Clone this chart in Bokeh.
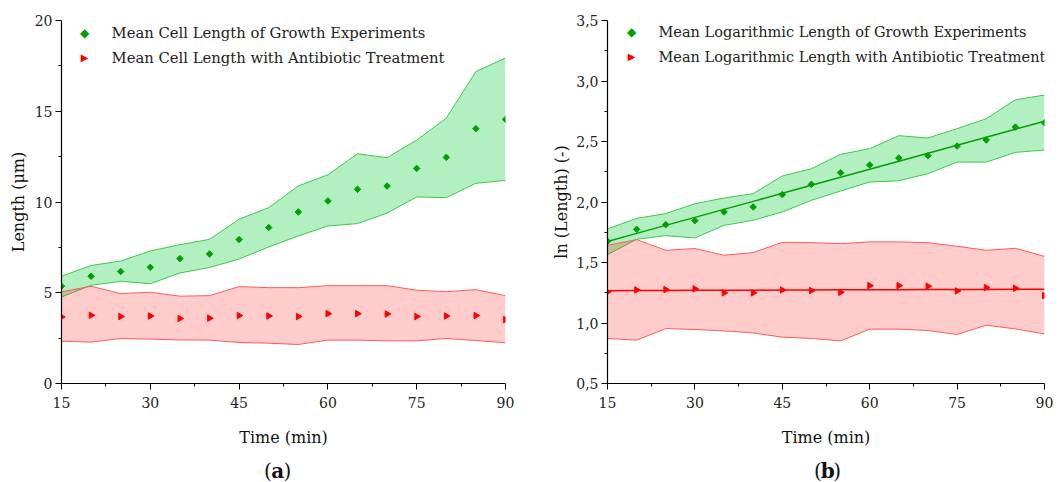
import numpy as np
from bokeh.plotting import figure
from bokeh.layouts import row, column
from bokeh.models import FixedTicker, Label, Range1d, CustomJSTickFormatter
from bokeh.embed import file_html
from bokeh.resources import INLINE

# ---------------- data ----------------
time = [15, 20, 25, 30, 35, 40, 45, 50, 55, 60, 65, 70, 75, 80, 85, 90]

# (a) cell length (um)
grow_mean = [5.36, 5.91, 6.17, 6.40, 6.88, 7.14, 7.93, 8.59, 9.45, 10.06,
             10.70, 10.88, 11.85, 12.46, 14.04, 14.55]
grow_upper = [5.91, 6.50, 6.75, 7.30, 7.65, 7.94, 9.05, 9.69, 10.88, 11.50,
              12.66, 12.44, 13.41, 14.62, 17.19, 17.93]
grow_lower = [4.77, 5.41, 5.63, 5.50, 6.09, 6.39, 6.86, 7.52, 8.13, 8.68,
              8.81, 9.39, 10.28, 10.24, 11.03, 11.19]
abx_mean = [3.67, 3.76, 3.69, 3.72, 3.58, 3.60, 3.74, 3.72, 3.69, 3.85,
            3.85, 3.83, 3.69, 3.72, 3.74, 3.52]
abx_upper = [5.05, 5.36, 4.95, 5.03, 4.81, 4.84, 5.34, 5.28, 5.28, 5.39,
             5.39, 5.39, 5.14, 5.06, 5.17, 4.84]
abx_lower = [2.33, 2.28, 2.48, 2.44, 2.40, 2.39, 2.26, 2.22, 2.15, 2.39,
             2.39, 2.35, 2.35, 2.48, 2.37, 2.24]

# (b) logarithmic length
lgrow_mean = [1.675, 1.774, 1.813, 1.846, 1.918, 1.959, 2.061, 2.146, 2.242,
              2.306, 2.363, 2.383, 2.462, 2.512, 2.619, 2.655]
lgrow_upper = [1.777, 1.865, 1.904, 1.986, 2.033, 2.069, 2.215, 2.275, 2.394,
               2.441, 2.548, 2.529, 2.606, 2.688, 2.845, 2.884]
lgrow_lower = [1.565, 1.692, 1.722, 1.703, 1.807, 1.849, 1.918, 2.014, 2.091,
               2.165, 2.176, 2.234, 2.330, 2.330, 2.410, 2.430]
labx_mean = [1.257, 1.273, 1.276, 1.282, 1.249, 1.249, 1.273, 1.268, 1.254,
             1.309, 1.309, 1.304, 1.265, 1.293, 1.287, 1.227]
labx_upper = [1.642, 1.689, 1.601, 1.615, 1.560, 1.582, 1.667, 1.664, 1.656,
              1.670, 1.670, 1.664, 1.634, 1.601, 1.617, 1.551]
labx_lower = [0.872, 0.858, 0.954, 0.946, 0.935, 0.918, 0.883, 0.872, 0.852,
              0.949, 0.949, 0.938, 0.905, 0.982, 0.951, 0.910]

x_ticks = [15, 30, 45, 60, 75, 90]
x_minor = [22.5, 37.5, 52.5, 67.5, 82.5]
ya_ticks = [0, 5, 10, 15, 20]
ya_minor = [2.5, 7.5, 12.5, 17.5]
yb_ticks = [0.5, 1.0, 1.5, 2.0, 2.5, 3.0, 3.5]
yb_minor = [0.75, 1.25, 1.75, 2.25, 2.75, 3.25]

legend_a = ["Mean Cell Length of Growth Experiments",
            "Mean Cell Length with Antibiotic Treatment"]
legend_b = ["Mean Logarithmic Length of Growth Experiments",
            "Mean Logarithmic Length with Antibiotic Treatment"]

FONT = "DejaVu Serif"
GREEN_FILL = "#00cc33"
GREEN_LINE = "#3cc84a"
GREEN_MARK = "#00a000"
RED_FILL = "#ff0000"
RED_LINE = "#ff5a5a"
RED_MARK = "#ff0000"

H_MAIN = 452
H_CAP = 30
FRAME_TOP = 20
FRAME_H = 363


def style(p, xlabel, ylabel, yticks, yminor, y_label_standoff):
    p.xaxis.ticker = FixedTicker(ticks=x_ticks, minor_ticks=x_minor)
    p.yaxis.ticker = FixedTicker(ticks=yticks, minor_ticks=yminor)
    p.xgrid.visible = False
    p.ygrid.visible = False
    p.outline_line_color = None
    for ax in (p.xaxis[0], p.yaxis[0]):
        ax.axis_line_color = "black"
        ax.axis_line_width = 1.2
        ax.major_tick_line_color = "black"
        ax.minor_tick_line_color = "black"
        ax.major_tick_out = 6
        ax.major_tick_in = 0
        ax.minor_tick_out = 3
        ax.minor_tick_in = 0
        ax.major_label_text_font = FONT
        ax.major_label_text_font_size = "14px"
        ax.major_label_text_color = "#222222"
        ax.axis_label_text_font = FONT
        ax.axis_label_text_font_size = "16px"
        ax.axis_label_text_font_style = "normal"
        ax.axis_label_text_color = "#111111"
    p.xaxis.axis_label = xlabel
    p.yaxis.axis_label = ylabel
    p.xaxis.major_label_standoff = 7
    p.xaxis.axis_label_standoff = 17
    p.yaxis.major_label_standoff = 3
    p.yaxis.axis_label_standoff = y_label_standoff


def bands(p, lower_g, upper_g, lower_r, upper_r):
    p.varea(x=time, y1=lower_g, y2=upper_g, fill_color=GREEN_FILL, fill_alpha=0.3)
    p.line(time, upper_g, line_color=GREEN_LINE, line_width=1)
    p.line(time, lower_g, line_color=GREEN_LINE, line_width=1)
    p.varea(x=time, y1=lower_r, y2=upper_r, fill_color=RED_FILL, fill_alpha=0.2)
    p.line(time, upper_r, line_color=RED_LINE, line_width=1)
    p.line(time, lower_r, line_color=RED_LINE, line_width=1)


def make_conv(frame_w, ymin, ymax):
    # pixel offsets (from frame left / frame top) -> data coordinates
    def cx(px):
        return 15 + px * (90 - 15) / frame_w

    def cy(py):
        return ymax - py * (ymax - ymin) / FRAME_H
    return cx, cy


def legend(p, conv, labels, mx, tx, rows, fs_text):
    cx, cy = conv
    syms = [("\u25c6", GREEN_MARK, "12px"), ("\u25b6", RED_MARK, "10px")]
    for (sym, col, fs), lab, ry in zip(syms, labels, rows):
        p.add_layout(Label(x=cx(mx), y=cy(ry), text=sym, text_align="center",
                           text_baseline="middle", text_font="DejaVu Sans",
                           text_font_size=fs, text_color=col))
        p.add_layout(Label(x=cx(tx), y=cy(ry), text=lab, text_align="left",
                           text_baseline="middle", text_font=FONT,
                           text_font_size=fs_text, text_color="#222222"))


def caption_fig(width, cx, letter):
    c = figure(width=width, height=H_CAP, output_backend="svg", title=None,
               toolbar_location=None, x_range=Range1d(0, width),
               y_range=Range1d(0, H_CAP), x_axis_type=None, y_axis_type=None,
               min_border=0)
    c.outline_line_color = None
    c.xgrid.visible = False
    c.ygrid.visible = False
    common = dict(y=H_CAP / 2 - 3, text_font=FONT, text_font_size="20px",
                  text_color="#111111", text_baseline="middle")
    c.add_layout(Label(x=cx - 7, text="(", text_align="right", **common))
    c.add_layout(Label(x=cx, text=letter, text_align="center",
                       text_font_style="bold", **common))
    c.add_layout(Label(x=cx + 7, text=")", text_align="left", **common))
    return c


# ---------------- panel (a) ----------------
WA, LA, RA = 530, 61, 25
pa = figure(width=WA, height=H_MAIN, output_backend="svg", toolbar_location=None,
            x_range=Range1d(15, 90), y_range=Range1d(0, 20),
            min_border_left=LA, min_border_right=RA, min_border_top=FRAME_TOP,
            min_border_bottom=H_MAIN - FRAME_TOP - FRAME_H)
style(pa, "Time (min)", "Length (\u03bcm)", ya_ticks, ya_minor, 4)
bands(pa, grow_lower, grow_upper, abx_lower, abx_upper)
pa.scatter(time, grow_mean, marker="square", size=4.6, angle=np.pi / 4,
           color=GREEN_MARK)
pa.scatter(time, abx_mean, marker="triangle", size=6.5, angle=-np.pi / 2,
           color=RED_MARK)
conv_a = make_conv(WA - LA - RA, 0, 20)
legend(pa, conv_a, legend_a, 23, 50, [12, 37], "14.8px")
ca = caption_fig(WA, 258, "a")

# ---------------- panel (b) ----------------
WB, LB, RB = 534, 77, 20
pb = figure(width=WB, height=H_MAIN, output_backend="svg", toolbar_location=None,
            x_range=Range1d(15, 90), y_range=Range1d(0.5, 3.5),
            min_border_left=LB, min_border_right=RB, min_border_top=FRAME_TOP,
            min_border_bottom=H_MAIN - FRAME_TOP - FRAME_H)
style(pb, "Time (min)", "ln (Length) (-)", yb_ticks, yb_minor, 2)
pb.yaxis.formatter = CustomJSTickFormatter(
    code="return tick.toFixed(1).replace('.', ',');")
bands(pb, lgrow_lower, lgrow_upper, labx_lower, labx_upper)

t = np.array(time, dtype=float)
kg = np.polyfit(t, lgrow_mean, 1)
kr = np.polyfit(t, labx_mean, 1)
pb.line(t, np.polyval(kg, t), line_color=GREEN_MARK, line_width=1.5)
pb.line(t, np.polyval(kr, t), line_color=RED_MARK, line_width=1.5)

pb.scatter(time, lgrow_mean, marker="square", size=4.6, angle=np.pi / 4,
           color=GREEN_MARK)
pb.scatter(time, labx_mean, marker="triangle", size=6.5, angle=-np.pi / 2,
           color=RED_MARK)
conv_b = make_conv(WB - LB - RB, 0.5, 3.5)
legend(pb, conv_b, legend_b, 24, 51, [11, 36], "14.5px")
cb = caption_fig(WB, 269, "b")

layout = row(column(pa, ca), column(pb, cb))
open("out.html", "w").write(file_html(layout, INLINE))
